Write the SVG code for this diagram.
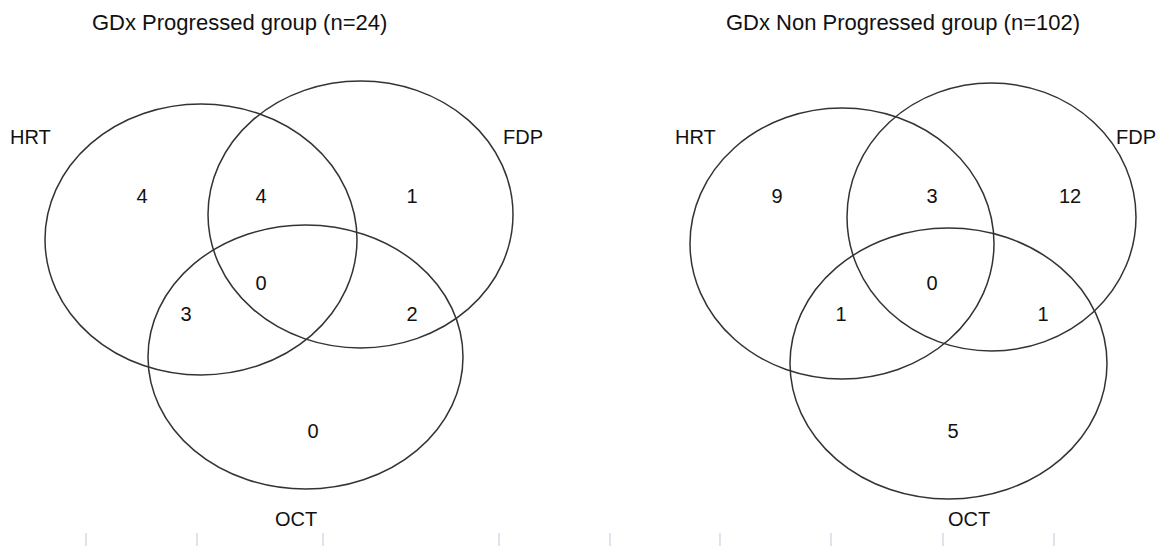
<svg xmlns="http://www.w3.org/2000/svg" width="1162" height="546" viewBox="0 0 1162 546">
  <style>
    text { font-family: "Liberation Sans", Arial, sans-serif; fill: #111; }
    .title { font-size: 22px; }
    .label { font-size: 20px; }
    .count { font-size: 20px; text-anchor: middle; }
    .set { fill: none; stroke: #333; stroke-width: 1.5; }
    .tick { stroke: #c9d2e3; stroke-width: 1.2; }
  </style>
  <rect width="1162" height="546" fill="#fff"/>

  <!-- Venn diagram: progressed group -->
  <g id="progressed">
    <text class="title" x="92" y="30">GDx Progressed group (n=24)</text>
    <g id="p-hrt">
      <ellipse class="set" cx="201" cy="239.5" rx="156" ry="135.5"/>
      <text class="label" x="10" y="144">HRT</text>
    </g>
    <g id="p-fdp">
      <ellipse class="set" cx="360.5" cy="214.5" rx="152.5" ry="133.5"/>
      <text class="label" x="503" y="144">FDP</text>
    </g>
    <g id="p-oct">
      <ellipse class="set" cx="305.5" cy="357" rx="157.5" ry="132"/>
      <text class="label" x="275" y="526">OCT</text>
    </g>
    <g id="p-counts">
      <text class="count" x="142" y="203">4</text>
      <text class="count" x="261" y="203">4</text>
      <text class="count" x="412" y="203">1</text>
      <text class="count" x="261" y="290">0</text>
      <text class="count" x="186" y="321">3</text>
      <text class="count" x="412" y="321">2</text>
      <text class="count" x="313" y="438">0</text>
    </g>
  </g>

  <!-- Venn diagram: non-progressed group -->
  <g id="non-progressed">
    <text class="title" x="726" y="30">GDx Non Progressed group (n=102)</text>
    <g id="n-hrt">
      <ellipse class="set" cx="842" cy="243.5" rx="152" ry="135.5"/>
      <text class="label" x="675" y="144">HRT</text>
    </g>
    <g id="n-fdp">
      <ellipse class="set" cx="991.5" cy="217" rx="144.5" ry="134"/>
      <text class="label" x="1116" y="144">FDP</text>
    </g>
    <g id="n-oct">
      <ellipse class="set" cx="948.5" cy="363.5" rx="158.5" ry="135.5"/>
      <text class="label" x="948" y="526">OCT</text>
    </g>
    <g id="n-counts">
      <text class="count" x="777" y="203">9</text>
      <text class="count" x="932" y="203">3</text>
      <text class="count" x="1070" y="203">12</text>
      <text class="count" x="932" y="290">0</text>
      <text class="count" x="841" y="321">1</text>
      <text class="count" x="1043" y="321">1</text>
      <text class="count" x="953" y="438">5</text>
    </g>
  </g>

  <!-- faint tick marks along the bottom edge -->
  <g id="ticks">
    <line class="tick" x1="86" y1="533" x2="86" y2="546"/>
    <line class="tick" x1="197" y1="533" x2="197" y2="546"/>
    <line class="tick" x1="323" y1="533" x2="323" y2="546"/>
    <line class="tick" x1="499" y1="533" x2="499" y2="546"/>
    <line class="tick" x1="610" y1="533" x2="610" y2="546"/>
    <line class="tick" x1="720" y1="533" x2="720" y2="546"/>
    <line class="tick" x1="831" y1="533" x2="831" y2="546"/>
    <line class="tick" x1="943" y1="533" x2="943" y2="546"/>
    <line class="tick" x1="1054" y1="533" x2="1054" y2="546"/>
  </g>
</svg>
